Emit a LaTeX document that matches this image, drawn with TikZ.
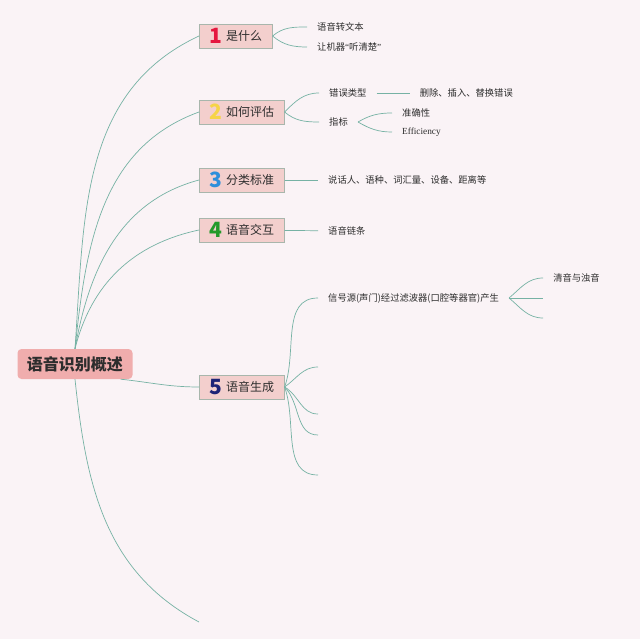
\documentclass[tikz,border=0pt]{standalone}
\usepackage{fontspec}
\usepackage{xcolor}
\usepackage{tikz}
\usetikzlibrary{positioning}
\setmainfont{Noto Sans CJK SC}
\newfontfamily\latinserif{Liberation Serif}
\definecolor{bgpink}{RGB}{250,243,246}
\definecolor{boxpink}{RGB}{243,207,205}
\definecolor{boxedge}{RGB}{168,182,172}
\definecolor{rootpink}{RGB}{240,173,173}
\definecolor{branchgreen}{RGB}{118,178,164}
\definecolor{inkgray}{RGB}{45,45,45}
\definecolor{numred}{RGB}{229,23,63}
\definecolor{numyellow}{RGB}{246,212,71}
\definecolor{numblue}{RGB}{46,143,219}
\definecolor{numgreen}{RGB}{36,154,42}
\definecolor{numnavy}{RGB}{30,36,119}
\newcommand\topicnum[2]{\raisebox{-2.8pt}{\fontsize{21}{21}\selectfont\bfseries\color{#1}#2}\hspace{4pt}}

\begin{document}
\begin{tikzpicture}[
  x=1pt, y=1pt,
  node distance=33pt,
  root/.style={
    fill=rootpink,
    rounded corners=4pt,
    minimum width=115pt,
    minimum height=30pt,
    text=inkgray,
    font=\fontsize{16}{16}\selectfont\bfseries
  },
  topic/.style={
    draw=boxedge,
    line width=0.8pt,
    fill=boxpink,
    anchor=west,
    minimum height=24pt,
    inner xsep=10pt,
    inner ysep=2pt,
    text=inkgray,
    font=\fontsize{12}{12}\selectfont
  },
  leaf/.style={
    anchor=west,
    inner xsep=10pt,
    inner ysep=2pt,
    text=inkgray,
    font=\fontsize{9.3}{9.3}\selectfont
  },
  branch/.style={draw=branchgreen, line width=0.7pt}
]
\fill[bgpink] (0,0) rectangle (640,-639);
\node[root] (root) at (75,-364) {语音识别概述};
\node[topic] (what) at (199,-36) {\topicnum{numred}{1}是什么};
\node[topic] (eval) at (199,-112) {\topicnum{numyellow}{2}如何评估};
\node[topic] (kind) at (199,-180) {\topicnum{numblue}{3}分类标准};
\node[topic] (talk) at (199,-230) {\topicnum{numgreen}{4}语音交互};
\node[topic] (make) at (199,-387) {\topicnum{numnavy}{5}语音生成};
\coordinate (tail) at (199,-622);
\node[leaf] (totext) at (307,-27) {语音转文本};
\node[leaf] (hear) at (307,-47) {让机器{\latinserif “}听清楚{\latinserif ”}};
\node[leaf] (errtype) at (319,-93) {错误类型};
\node[leaf] (metric) at (319,-122) {指标};
\node[leaf, right=of errtype] (errlist) {删除、插入、替换错误};
\node[leaf, right=34pt of metric, yshift=9pt] (acc) {准确性};
\node[leaf, right=34pt of metric, yshift=-10pt] (eff) {\latinserif Efficiency};
\node[leaf] (factor) at (318,-180) {说话人、语种、词汇量、设备、距离等};
\node[leaf] (chain) at (318,-231) {语音链条};
\node[leaf] (source) at (318,-298) {信号源(声门)经过滤波器(口腔等器官)产生};
\node[leaf, right=34pt of source, yshift=20pt] (voiced) {清音与浊音};
\coordinate (srcmid) at ([xshift=34pt]source.east);
\coordinate (srclow) at ([xshift=34pt, yshift=-20pt]source.east);
\coordinate (gen2) at (318,-367);
\coordinate (gen3) at (318,-414);
\coordinate (gen4) at (318,-435);
\coordinate (gen5) at (318,-475);
\draw[branch] (root.north) to[out=86, in=205] (what.west);
\draw[branch] (root.north) to[out=84, in=200] (eval.west);
\draw[branch] (root.north) to[out=80, in=195] (kind.west);
\draw[branch] (root.north) to[out=76, in=192] (talk.west);
\draw[branch] ([xshift=-12pt]root.south east) to[out=-6, in=180] (make.west);
\draw[branch] (root.south) to[out=-84, in=152] (tail);
\draw[branch] (what.east) to[out=40, in=180] (totext.west);
\draw[branch] (what.east) to[out=-40, in=180] (hear.west);
\draw[branch] (eval.east) to[out=45, in=180] (errtype.west);
\draw[branch] (eval.east) to[out=-40, in=180] (metric.west);
\draw[branch] (errtype) -- (errlist);
\draw[branch] (metric.east) to[out=30, in=180] (acc.west);
\draw[branch] (metric.east) to[out=-30, in=180] (eff.west);
\draw[branch] (kind) -- (factor);
\draw[branch] (talk) -- (chain);
\draw[branch] (make.east) to[out=70, in=180] (source.west);
\draw[branch] (make.east) to[out=35, in=180] (gen2);
\draw[branch] (make.east) to[out=-30, in=180] (gen3);
\draw[branch] (make.east) to[out=-45, in=180] (gen4);
\draw[branch] (make.east) to[out=-70, in=180] (gen5);
\draw[branch] (source.east) to[out=40, in=180] (voiced.west);
\draw[branch] (source.east) -- (srcmid);
\draw[branch] (source.east) to[out=-40, in=180] (srclow);
\end{tikzpicture}
\end{document}
